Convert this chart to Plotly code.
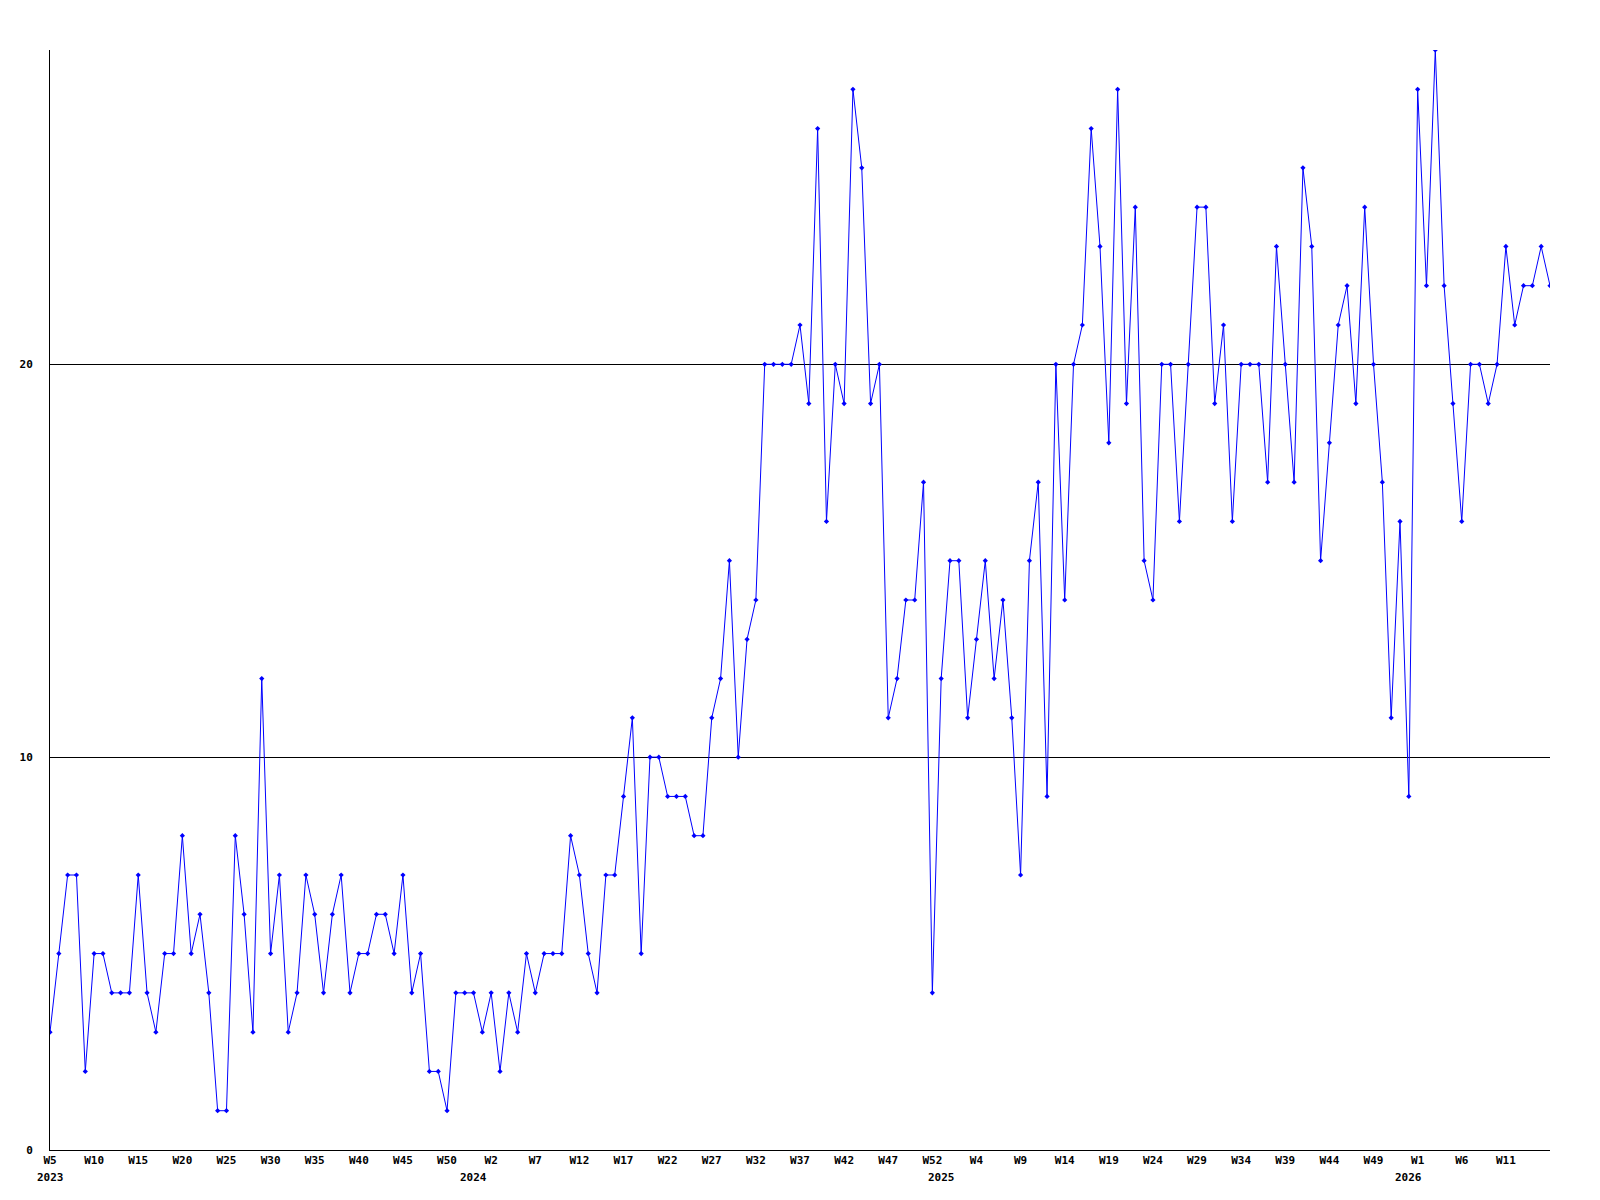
import plotly.graph_objects as go

# weekly counts, 2023 W5 .. 2026 W16
counts = [
    3, 5, 7, 7, 2, 5, 5, 4, 4, 4,
    7, 4, 3, 5, 5, 8, 5, 6, 4, 1,
    1, 8, 6, 3, 12, 5, 7, 3, 4, 7,
    6, 4, 6, 7, 4, 5, 5, 6, 6, 5,
    7, 4, 5, 2, 2, 1, 4, 4, 4, 3,
    4, 2, 4, 3, 5, 4, 5, 5, 5, 8,
    7, 5, 4, 7, 7, 9, 11, 5, 10, 10,
    9, 9, 9, 8, 8, 11, 12, 15, 10, 13,
    14, 20, 20, 20, 20, 21, 19, 26, 16, 20,
    19, 27, 25, 19, 20, 11, 12, 14, 14, 17,
    4, 12, 15, 15, 11, 13, 15, 12, 14, 11,
    7, 15, 17, 9, 20, 14, 20, 21, 26, 23,
    18, 27, 19, 24, 15, 14, 20, 20, 16, 20,
    24, 24, 19, 21, 16, 20, 20, 20, 17, 23,
    20, 17, 25, 23, 15, 18, 21, 22, 19, 24,
    20, 17, 11, 16, 9, 27, 22, 28, 22, 19,
    16, 20, 20, 19, 20, 23, 21, 22, 22, 23,
    22,
]

week_labels = [
    "W5", "W10", "W15", "W20", "W25", "W30", "W35", "W40", "W45", "W50",
    "W2", "W7", "W12", "W17", "W22", "W27", "W32", "W37", "W42", "W47",
    "W52", "W4", "W9", "W14", "W19", "W24", "W29", "W34", "W39", "W44",
    "W49", "W1", "W6", "W11",
]
year_labels = ["2023", "2024", "2025", "2026"]
year_index = [0, 48, 101, 154]

x = list(range(len(counts)))
tick_pos = [i * 5 for i in range(len(week_labels))]

font = dict(family="DejaVu Sans Mono", size=11, color="black", weight="bold")

fig = go.Figure()
fig.add_trace(go.Scatter(
    x=x,
    y=counts,
    mode="lines+markers",
    line=dict(color="#0000ff", width=1),
    marker=dict(color="#0000ff", size=4, symbol="diamond"),
    showlegend=False,
))

for label, idx in zip(year_labels, year_index):
    fig.add_annotation(
        x=idx, y=0, xref="x", yref="paper",
        text=label, showarrow=False,
        yanchor="middle", yshift=-27,
        font=font,
    )

# page body adds an 8px offset, so the margins are trimmed on top/left
fig.update_layout(
    width=1600,
    height=1200,
    margin=dict(l=42, r=58, t=42, b=58),
    plot_bgcolor="white",
    paper_bgcolor="white",
    xaxis=dict(
        range=[0, len(counts) - 1],
        tickmode="array",
        tickvals=tick_pos,
        ticktext=week_labels,
        showgrid=False,
        zeroline=False,
        showline=True,
        linecolor="black",
        linewidth=1,
        ticks="",
        tickfont=font,
    ),
    yaxis=dict(
        range=[0, max(counts)],
        tickmode="array",
        tickvals=[0, 10, 20],
        showgrid=True,
        gridcolor="black",
        gridwidth=1,
        zeroline=False,
        showline=True,
        linecolor="black",
        linewidth=1,
        ticks="",
        ticklabelstandoff=14,
        tickfont=font,
    ),
)

fig.write_html("out.html")
